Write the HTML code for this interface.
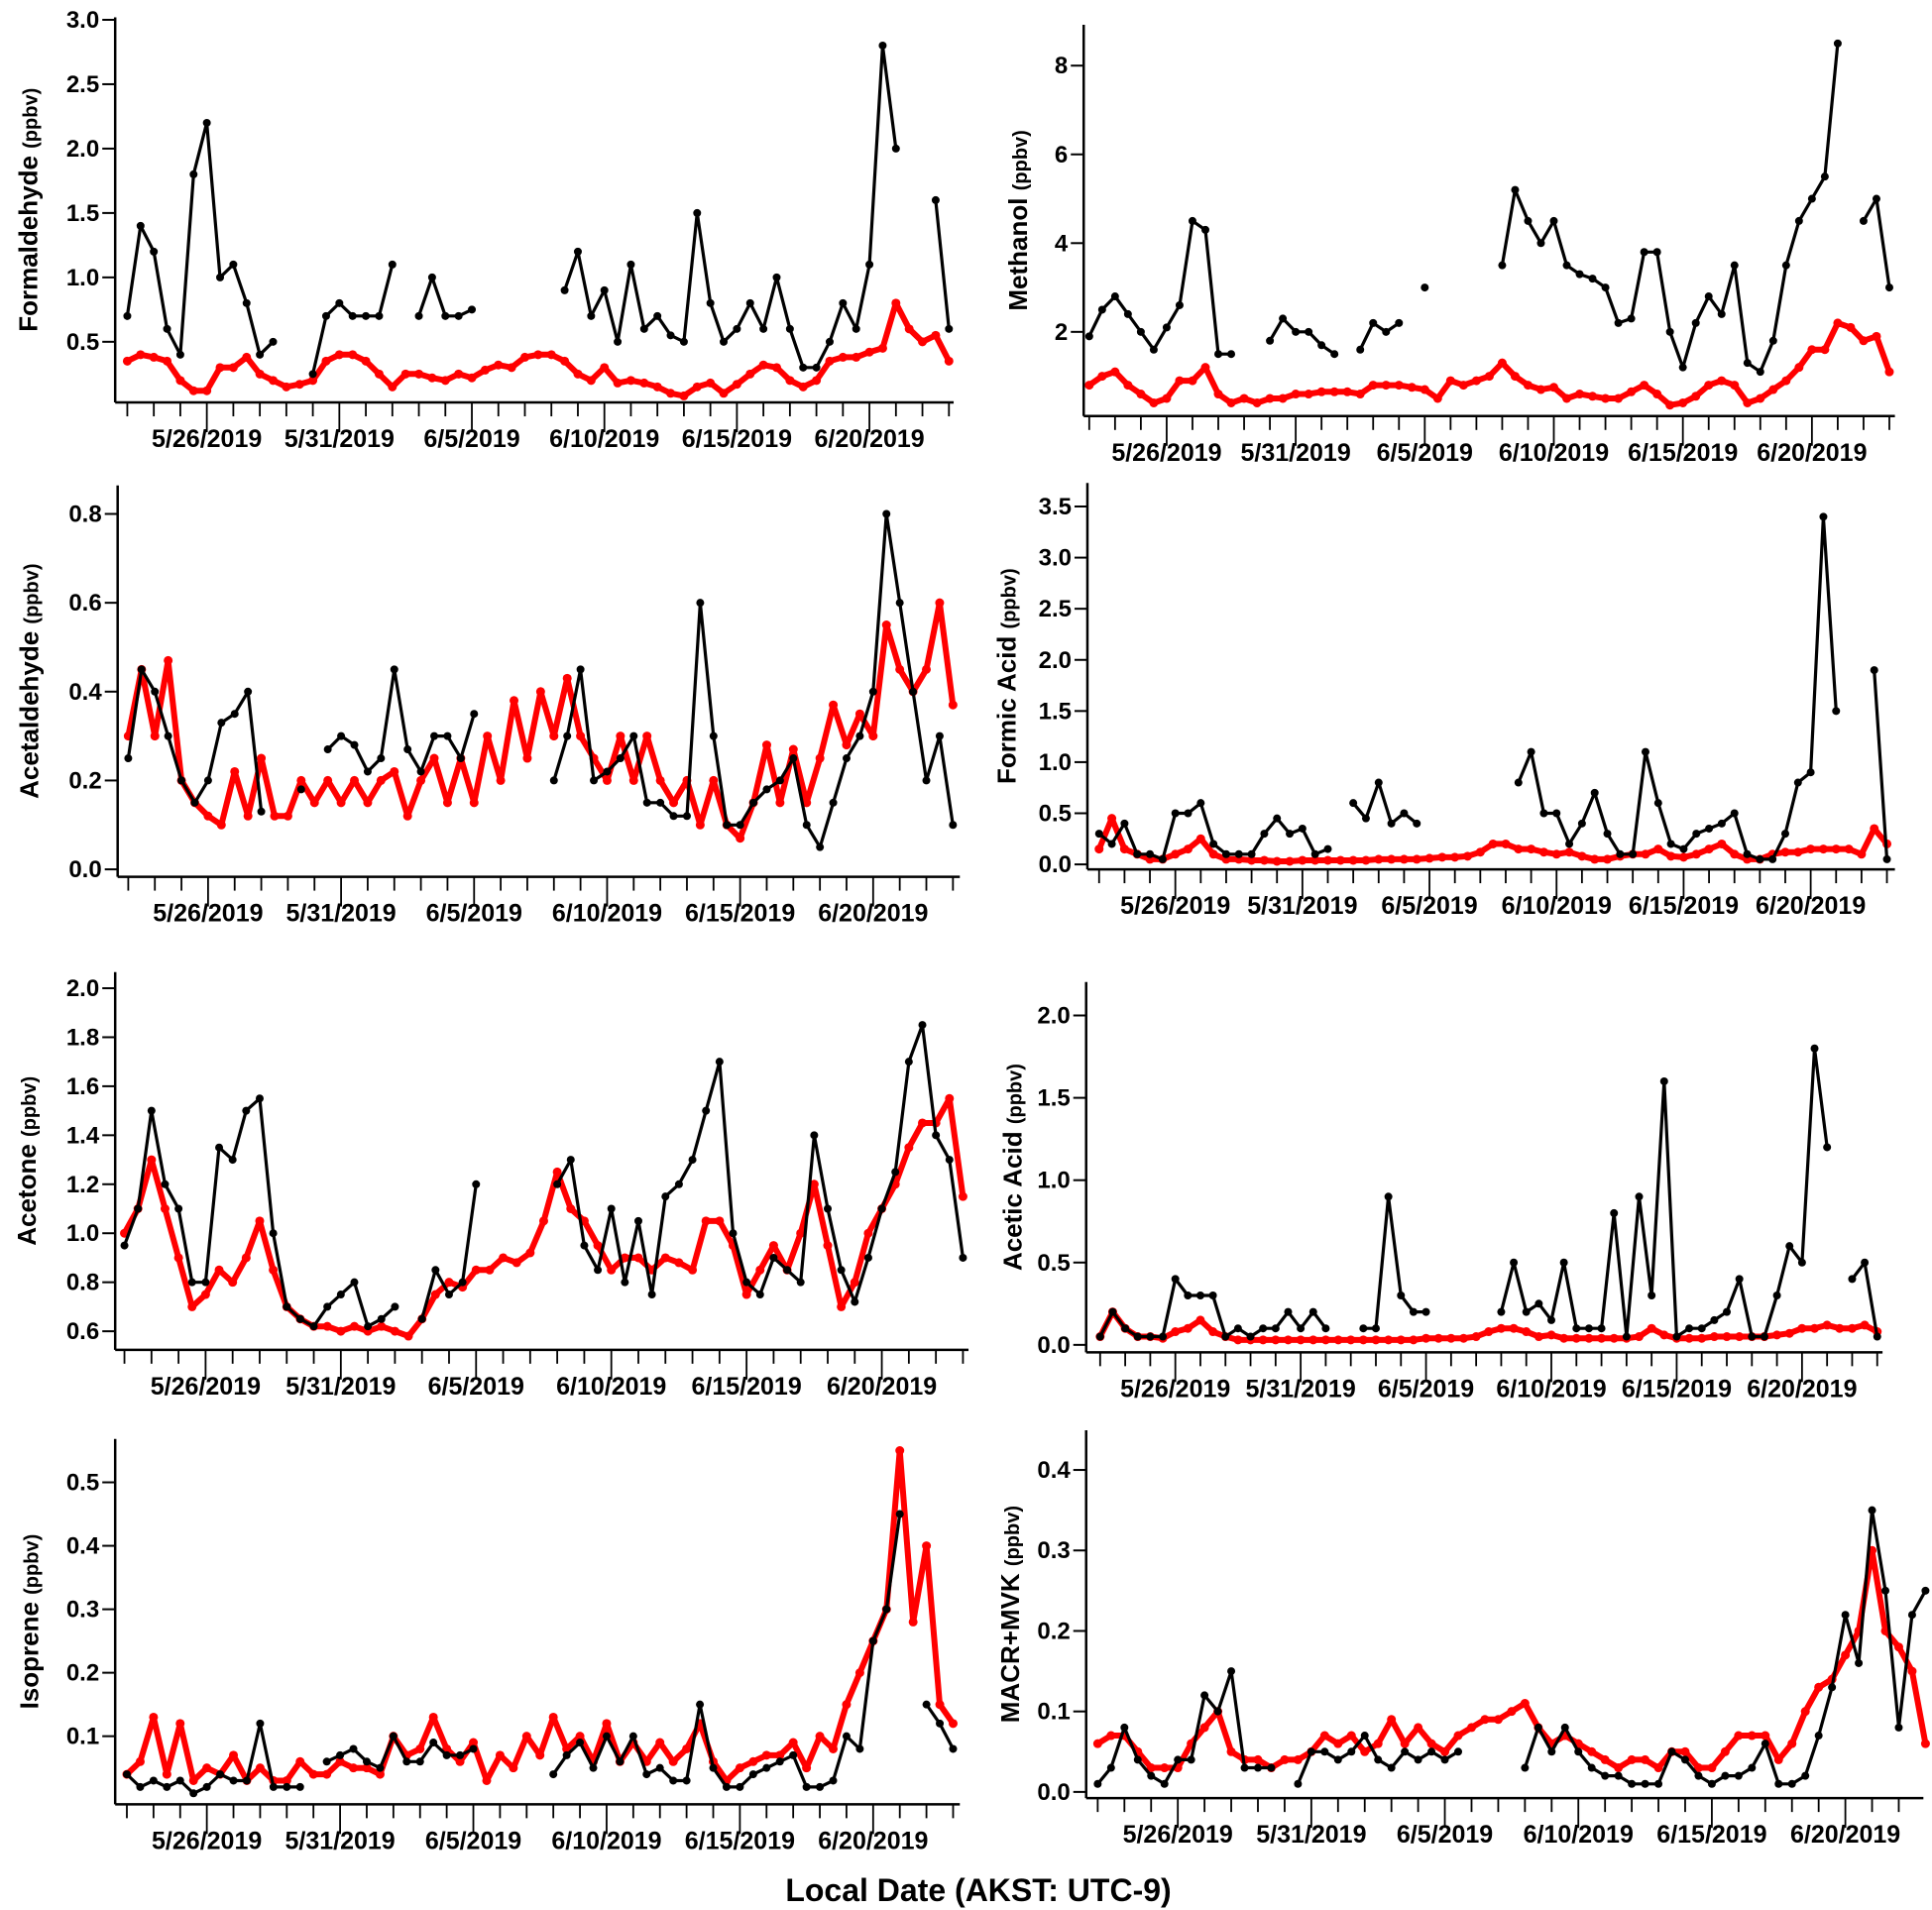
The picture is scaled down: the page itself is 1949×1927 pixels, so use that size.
<!DOCTYPE html>
<html><head><meta charset="utf-8"><style>
html,body{margin:0;padding:0;background:#fff;}
svg{display:block;}
text{font-family:"Liberation Sans Narrow","Liberation Sans",sans-serif;font-weight:bold;fill:#000;}
</style></head><body>
<svg id="chart" width="1949" height="1927" viewBox="0 0 1949 1927" xmlns="http://www.w3.org/2000/svg">
<text x="987" y="1918" font-size="32" text-anchor="middle" style="font-family:'Liberation Sans',sans-serif">Local Date (AKST: UTC-9)</text>
</svg>
<script>
// Shared time grid: days since 5/22/2019, half-day steps from 1.0 to 32.0
const days = [];
for (let i = 0; i <= 62; i++) days.push(1 + 0.5 * i);
const dateTickLabels = ["5/26/2019","5/31/2019","6/5/2019","6/10/2019","6/15/2019","6/20/2019"];
const dateTickDays = [4, 9, 14, 19, 24, 29];
const _ = null;

const formaldehydeBlack = [0.7,1.4,1.2,0.6,0.4,1.8,2.2,1.0,1.1,0.8,0.4,0.5,_,_,0.25,0.7,0.8,0.7,0.7,0.7,1.1,_,0.7,1.0,0.7,0.7,0.75,_,_,_,_,_,_,0.9,1.2,0.7,0.9,0.5,1.1,0.6,0.7,0.55,0.5,1.5,0.8,0.5,0.6,0.8,0.6,1.0,0.6,0.3,0.3,0.5,0.8,0.6,1.1,2.8,2.0,_,_,1.6,0.6];
const formaldehydeRed = [0.35,0.4,0.38,0.35,0.2,0.12,0.12,0.3,0.3,0.38,0.25,0.2,0.15,0.17,0.2,0.35,0.4,0.4,0.35,0.25,0.15,0.25,0.25,0.22,0.2,0.25,0.22,0.28,0.32,0.3,0.38,0.4,0.4,0.35,0.25,0.2,0.3,0.18,0.2,0.18,0.15,0.1,0.08,0.15,0.18,0.1,0.17,0.25,0.32,0.3,0.2,0.15,0.2,0.35,0.38,0.38,0.42,0.45,0.8,0.6,0.5,0.55,0.35];

const methanolBlack = [1.9,2.5,2.8,2.4,2.0,1.6,2.1,2.6,4.5,4.3,1.5,1.5,_,_,1.8,2.3,2.0,2.0,1.7,1.5,_,1.6,2.2,2.0,2.2,_,3.0,_,_,_,_,_,3.5,5.2,4.5,4.0,4.5,3.5,3.3,3.2,3.0,2.2,2.3,3.8,3.8,2.0,1.2,2.2,2.8,2.4,3.5,1.3,1.1,1.8,3.5,4.5,5.0,5.5,8.5,_,4.5,5.0,3.0];
const methanolRed = [0.8,1.0,1.1,0.8,0.6,0.4,0.5,0.9,0.9,1.2,0.6,0.4,0.5,0.4,0.5,0.5,0.6,0.6,0.65,0.65,0.65,0.6,0.8,0.8,0.8,0.75,0.7,0.5,0.9,0.8,0.9,1.0,1.3,1.0,0.8,0.7,0.75,0.5,0.6,0.55,0.5,0.5,0.65,0.8,0.6,0.35,0.4,0.55,0.8,0.9,0.8,0.4,0.5,0.7,0.9,1.2,1.6,1.6,2.2,2.1,1.8,1.9,1.1];

const acetaldehydeBlack = [0.25,0.45,0.4,0.3,0.2,0.15,0.2,0.33,0.35,0.4,0.13,_,_,0.18,_,0.27,0.3,0.28,0.22,0.25,0.45,0.27,0.22,0.3,0.3,0.25,0.35,_,_,_,_,_,0.2,0.3,0.45,0.2,0.22,0.25,0.3,0.15,0.15,0.12,0.12,0.6,0.3,0.1,0.1,0.15,0.18,0.2,0.25,0.1,0.05,0.15,0.25,0.3,0.4,0.8,0.6,0.4,0.2,0.3,0.1];
const acetaldehydeRed = [0.3,0.45,0.3,0.47,0.2,0.15,0.12,0.1,0.22,0.12,0.25,0.12,0.12,0.2,0.15,0.2,0.15,0.2,0.15,0.2,0.22,0.12,0.2,0.25,0.15,0.25,0.15,0.3,0.2,0.38,0.25,0.4,0.3,0.43,0.3,0.25,0.2,0.3,0.2,0.3,0.2,0.15,0.2,0.1,0.2,0.1,0.07,0.15,0.28,0.15,0.27,0.15,0.25,0.37,0.28,0.35,0.3,0.55,0.45,0.4,0.45,0.6,0.37];

const formicBlack = [0.3,0.2,0.4,0.1,0.1,0.05,0.5,0.5,0.6,0.2,0.1,0.1,0.1,0.3,0.45,0.3,0.35,0.1,0.15,_,0.6,0.45,0.8,0.4,0.5,0.4,_,_,_,_,_,_,_,0.8,1.1,0.5,0.5,0.2,0.4,0.7,0.3,0.1,0.1,1.1,0.6,0.2,0.15,0.3,0.35,0.4,0.5,0.1,0.05,0.05,0.3,0.8,0.9,3.4,1.5,_,_,1.9,0.05];
const formicRed = [0.15,0.45,0.15,0.1,0.05,0.05,0.1,0.15,0.25,0.1,0.05,0.05,0.04,0.04,0.03,0.03,0.04,0.04,0.04,0.04,0.04,0.04,0.05,0.05,0.05,0.05,0.06,0.07,0.07,0.08,0.12,0.2,0.2,0.15,0.15,0.12,0.1,0.12,0.08,0.05,0.05,0.08,0.1,0.1,0.15,0.08,0.07,0.1,0.15,0.2,0.1,0.05,0.05,0.1,0.12,0.12,0.15,0.15,0.15,0.15,0.1,0.35,0.2];

const acetoneBlack = [0.95,1.1,1.5,1.2,1.1,0.8,0.8,1.35,1.3,1.5,1.55,1.0,0.7,0.65,0.62,0.7,0.75,0.8,0.62,0.65,0.7,_,0.65,0.85,0.75,0.8,1.2,_,_,_,_,_,1.2,1.3,0.95,0.85,1.1,0.8,1.05,0.75,1.15,1.2,1.3,1.5,1.7,1.0,0.8,0.75,0.9,0.85,0.8,1.4,1.1,0.85,0.72,0.9,1.1,1.25,1.7,1.85,1.4,1.3,0.9];
const acetoneRed = [1.0,1.1,1.3,1.1,0.9,0.7,0.75,0.85,0.8,0.9,1.05,0.85,0.7,0.65,0.62,0.62,0.6,0.62,0.6,0.62,0.6,0.58,0.65,0.75,0.8,0.78,0.85,0.85,0.9,0.88,0.92,1.05,1.25,1.1,1.05,0.95,0.85,0.9,0.9,0.85,0.9,0.88,0.85,1.05,1.05,0.95,0.75,0.85,0.95,0.85,1.0,1.2,0.95,0.7,0.8,1.0,1.1,1.2,1.35,1.45,1.45,1.55,1.15];

const aceticBlack = [0.05,0.2,0.1,0.05,0.05,0.05,0.4,0.3,0.3,0.3,0.05,0.1,0.05,0.1,0.1,0.2,0.1,0.2,0.1,_,_,0.1,0.1,0.9,0.3,0.2,0.2,_,_,_,_,_,0.2,0.5,0.2,0.25,0.15,0.5,0.1,0.1,0.1,0.8,0.05,0.9,0.3,1.6,0.05,0.1,0.1,0.15,0.2,0.4,0.05,0.05,0.3,0.6,0.5,1.8,1.2,_,0.4,0.5,0.05];
const aceticRed = [0.05,0.2,0.1,0.05,0.05,0.04,0.08,0.1,0.15,0.08,0.05,0.03,0.03,0.03,0.03,0.03,0.03,0.03,0.03,0.03,0.03,0.03,0.03,0.03,0.03,0.03,0.04,0.04,0.04,0.04,0.05,0.08,0.1,0.1,0.08,0.05,0.06,0.04,0.04,0.04,0.04,0.04,0.04,0.05,0.1,0.06,0.04,0.04,0.04,0.05,0.05,0.05,0.05,0.05,0.06,0.07,0.1,0.1,0.12,0.1,0.1,0.12,0.08];

const isopreneBlack = [0.04,0.02,0.03,0.02,0.03,0.01,0.02,0.04,0.03,0.03,0.12,0.02,0.02,0.02,_,0.06,0.07,0.08,0.06,0.05,0.1,0.06,0.06,0.09,0.07,0.07,0.08,_,_,_,_,_,0.04,0.07,0.09,0.05,0.1,0.06,0.1,0.04,0.05,0.03,0.03,0.15,0.05,0.02,0.02,0.04,0.05,0.06,0.07,0.02,0.02,0.03,0.1,0.08,0.25,0.3,0.45,_,0.15,0.12,0.08];
const isopreneRed = [0.04,0.06,0.13,0.04,0.12,0.03,0.05,0.04,0.07,0.03,0.05,0.03,0.03,0.06,0.04,0.04,0.06,0.05,0.05,0.04,0.1,0.07,0.08,0.13,0.08,0.06,0.09,0.03,0.07,0.05,0.1,0.07,0.13,0.08,0.1,0.06,0.12,0.06,0.09,0.06,0.09,0.06,0.08,0.12,0.06,0.03,0.05,0.06,0.07,0.07,0.09,0.05,0.1,0.08,0.15,0.2,0.25,0.3,0.55,0.28,0.4,0.15,0.12];

const macrBlack = [0.01,0.03,0.08,0.04,0.02,0.01,0.04,0.04,0.12,0.1,0.15,0.03,0.03,0.03,_,0.01,0.05,0.05,0.04,0.05,0.07,0.04,0.03,0.05,0.04,0.05,0.04,0.05,_,_,_,_,0.03,0.08,0.05,0.08,0.05,0.03,0.02,0.02,0.01,0.01,0.01,0.05,0.04,0.02,0.01,0.02,0.02,0.03,0.06,0.01,0.01,0.02,0.07,0.13,0.22,0.16,0.35,0.25,0.08,0.22,0.25];
const macrRed = [0.06,0.07,0.07,0.05,0.03,0.03,0.03,0.06,0.08,0.1,0.05,0.04,0.04,0.03,0.04,0.04,0.05,0.07,0.06,0.07,0.05,0.06,0.09,0.06,0.08,0.06,0.05,0.07,0.08,0.09,0.09,0.1,0.11,0.08,0.06,0.07,0.06,0.05,0.04,0.03,0.04,0.04,0.03,0.05,0.05,0.03,0.03,0.05,0.07,0.07,0.07,0.04,0.06,0.1,0.13,0.14,0.17,0.2,0.3,0.2,0.18,0.15,0.06];

const S = 1.2494;
const NS = "http://www.w3.org/2000/svg";
const svg = document.getElementById('chart');
function mk(tag, attrs, parent){ const e=document.createElementNS(NS,tag); for(const k in attrs) e.setAttribute(k,attrs[k]); (parent||svg).appendChild(e); return e; }

const panels = [
 {key:'formaldehyde', title:'Formaldehyde', black:formaldehydeBlack, red:formaldehydeRed, L:93,T:14,R:770,B:325,x0:167,x1:702,v0:0.5,p0:276,v1:3.0,p1:16,ticks:[0.5,1.0,1.5,2.0,2.5,3.0],minor:0.1,dec:1,tx:30},
 {key:'methanol', title:'Methanol', black:methanolBlack, red:methanolRed, L:875,T:20,R:1530,B:336,x0:942,x1:1463,v0:2,p0:268,v1:8,p1:53,ticks:[2,4,6,8],minor:0.5,dec:0,tx:829},
 {key:'acetaldehyde', title:'Acetaldehyde', black:acetaldehydeBlack, red:acetaldehydeRed, L:95,T:392,R:775,B:708,x0:168,x1:705,v0:0,p0:702,v1:0.8,p1:415,ticks:[0,0.2,0.4,0.6,0.8],minor:0.05,dec:1,tx:31},
 {key:'formic-acid', title:'Formic Acid', black:formicBlack, red:formicRed, L:878,T:390,R:1530,B:702,x0:949,x1:1462,v0:0,p0:698,v1:3.5,p1:409,ticks:[0,0.5,1,1.5,2,2.5,3,3.5],minor:0.1,dec:1,tx:820},
 {key:'acetone', title:'Acetone', black:acetoneBlack, red:acetoneRed, L:93,T:785,R:782,B:1090,x0:166,x1:712,v0:0.6,p0:1075,v1:2.0,p1:798,ticks:[0.6,0.8,1.0,1.2,1.4,1.6,1.8,2.0],minor:0.05,dec:1,tx:29},
 {key:'acetic-acid', title:'Acetic Acid', black:aceticBlack, red:aceticRed, L:877,T:793,R:1520,B:1092,x0:949,x1:1455,v0:0,p0:1086,v1:2,p1:820,ticks:[0,0.5,1,1.5,2],minor:0.1,dec:1,tx:825},
 {key:'isoprene', title:'Isoprene', black:isopreneBlack, red:isopreneRed, L:93,T:1162,R:775,B:1457,x0:167,x1:705,v0:0.1,p0:1402,v1:0.5,p1:1197,ticks:[0.1,0.2,0.3,0.4,0.5],minor:0.02,dec:1,tx:31},
 {key:'macr-mvk', title:'MACR+MVK', black:macrBlack, red:macrRed, L:877,T:1155,R:1553,B:1452,x0:951,x1:1490,v0:0,p0:1447,v1:0.4,p1:1187,ticks:[0,0.1,0.2,0.3,0.4],minor:0.02,dec:1,tx:823}
];

panels.forEach(p=>{
  const g = mk('g',{});
  
  
  const xs = d => S*(p.x0 + (d-4)*(p.x1-p.x0)/25);
  const ys = v => S*(p.p0 + (v-p.v0)*(p.p1-p.p0)/(p.v1-p.v0));
  const L=S*p.L, R=S*p.R, T=S*p.T, B=S*p.B;
  const ya = mk('line',{x1:L,y1:T,x2:L,y2:B,stroke:'#000','stroke-width':2.5},g);
  
  
  const xa = mk('line',{x1:L,y1:B,x2:R,y2:B,stroke:'#000','stroke-width':2.5},g);
  
  
  const vmin = p.v0 + (p.p0 - p.B)*(p.v1-p.v0)/(p.p1-p.p0);
  const vmax = p.v0 + (p.p0 - p.T)*(p.v1-p.v0)/(p.p1-p.p0);
  for(let v=Math.ceil(vmin/p.minor)*p.minor; v<=vmax+1e-9; v+=p.minor){
    const y=ys(v); mk('line',{x1:L-7,y1:y,x2:L,y2:y,stroke:'#000','stroke-width':1.5},g);
  }
  p.ticks.forEach(v=>{
    const y=ys(v);
    mk('line',{x1:L-13,y1:y,x2:L,y2:y,stroke:'#000','stroke-width':2},g);
    const t=mk('text',{x:L-16,y:y+8,'font-size':24,'text-anchor':'end'},g);
    t.textContent = v.toFixed(p.dec);
    
    
  });
  for(let d=Math.ceil((p.L-p.x0)*25/(p.x1-p.x0)+4); xs(d)<=R; d++){
    const x=xs(d); const major = dateTickDays.includes(d);
    mk('line',{x1:x,y1:B,x2:x,y2:B+(major?30:14),stroke:'#000','stroke-width':1.8},g);
  }
  dateTickDays.forEach((d,i)=>{
    const t=mk('text',{x:xs(d),y:B+S*36,'font-size':25,'text-anchor':'middle'},g);
    t.textContent=dateTickLabels[i];
    
    
  });
  const cy=(T+B)/2, cx=S*p.tx;
  const tt=mk('text',{x:cx,y:cy,'font-size':26,'text-anchor':'middle',transform:`rotate(-90 ${cx} ${cy})`,style:"font-family:'Liberation Sans',sans-serif"},g);
  
  
  tt.innerHTML = p.title+' <tspan font-size="20">(ppbv)</tspan>';
  function series(vals,color,lw,r,name){
    const sg=mk('g',{},g);
    
    
    let dstr='', pen=false;
    vals.forEach((v,i)=>{
      if(v===null){pen=false;return;}
      dstr += (pen?'L':'M')+xs(days[i]).toFixed(1)+','+ys(v).toFixed(1);
      pen=true;
    });
    mk('path',{d:dstr,fill:'none',stroke:color,'stroke-width':lw,'stroke-linejoin':'round'},sg);
    vals.forEach((v,i)=>{
      if(v===null) return;
      mk('circle',{cx:xs(days[i]),cy:ys(v),r:r,fill:color},sg);
    });
  }
  series(p.red,'#ff0000',6,4.5,'model');
  series(p.black,'#000',3.2,4,'observed');
});
</script>
</body></html>
